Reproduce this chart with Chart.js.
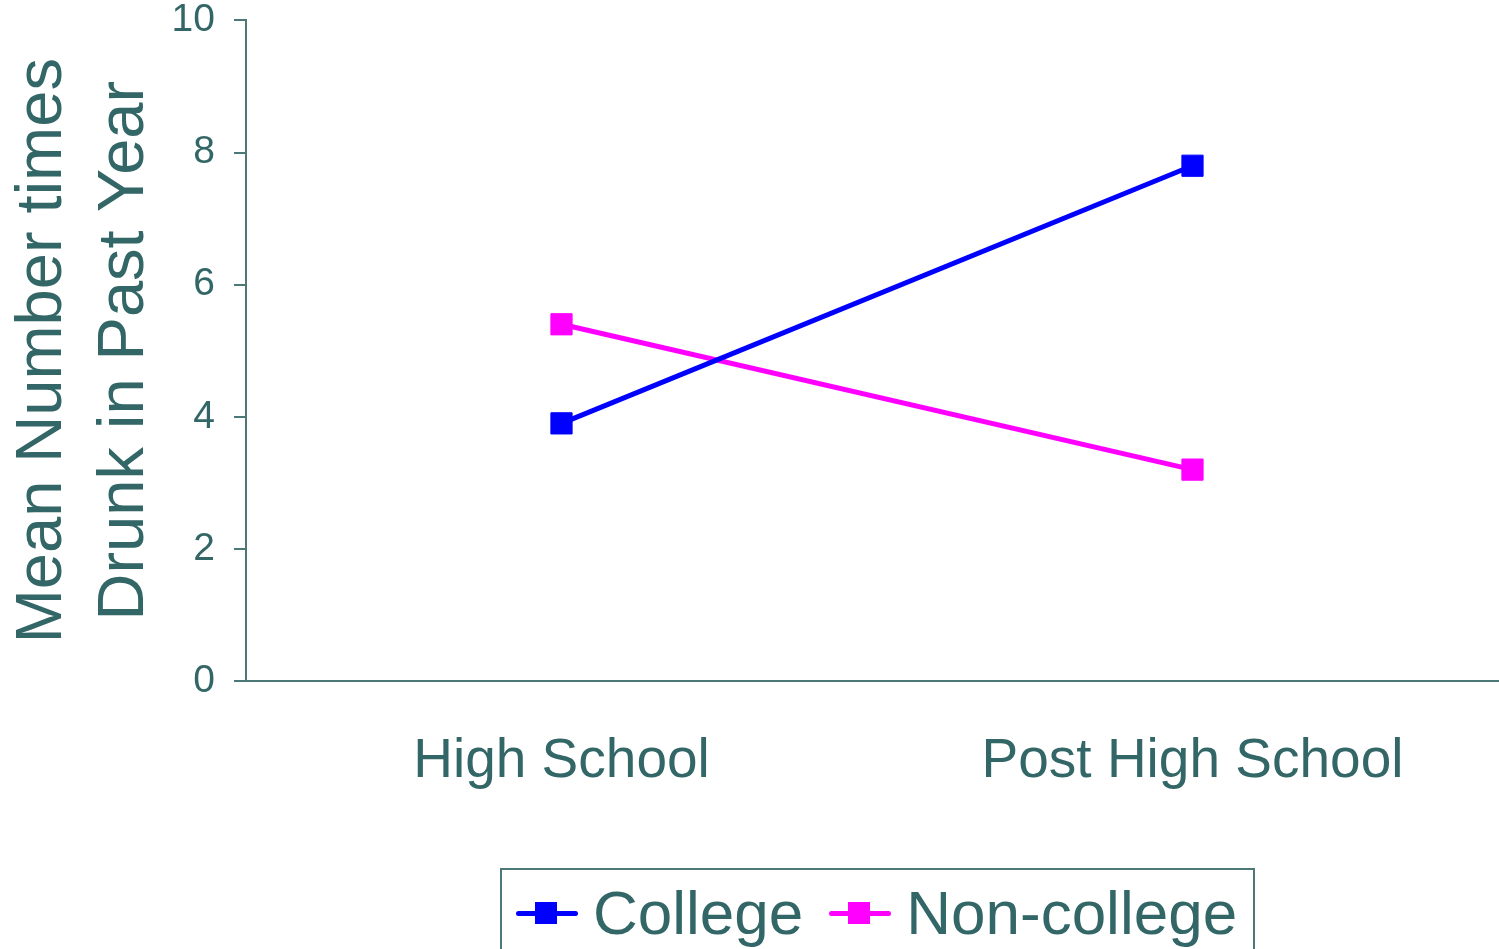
<!DOCTYPE html>
<html>
<head>
<meta charset="utf-8">
<script src="https://cdn.jsdelivr.net/npm/chart.js@4.4.0/dist/chart.umd.min.js"></script>
<style>
  html, body { margin: 0; padding: 0; background: #fff; overflow: hidden; }
  #wrap { position: relative; width: 1524px; height: 971px; margin-top: -22px; }
  #legend {
    position: absolute; left: 500px; top: 890px; width: 755px; height: 110px;
    border: 2px solid #4d7878; box-sizing: border-box;
    font-family: "Liberation Sans", Arial, sans-serif; font-size: 62px; color: #336666;
    display: flex; align-items: flex-start; padding: 12px 0 0 14px; white-space: nowrap;
  }
  .item { display: flex; align-items: center; margin-right: 26px; line-height: 62px; flex-shrink: 0; }
  .sym { position: relative; width: 62px; height: 22px; margin-right: 15px; }
  .sym .ln { position: absolute; left: 0; right: 0; top: 9px; height: 5px; border-radius: 3px; }
  .sym .sq { position: absolute; left: 19px; top: 0; width: 22px; height: 22px; }
</style>
</head>
<body>
<div id="wrap">
  <canvas id="chart"></canvas>
  <div id="legend"></div>
</div>
<script>
const categories = ['High School', 'Post High School'];
const college = [3.9, 7.8];
const nonCollege = [5.4, 3.2];
const seriesNames = ['College', 'Non-college'];
const seriesColors = ['#0000ff', '#ff00ff'];
const yTicks = [0, 2, 4, 6, 8, 10];

const textColor = '#336666';
const axisColor = '#4d7878';

const ctx = document.getElementById('chart').getContext('2d');
const myChart = new Chart(ctx, {
    type: 'line',
    data: {
        labels: categories,
        datasets: [college, nonCollege].map((d, i) => ({
            label: seriesNames[i],
            data: d,
            borderColor: seriesColors[i],
            backgroundColor: seriesColors[i],
            borderWidth: 5,
            pointStyle: 'rect',
            pointRadius: 15,
            pointHoverRadius: 15,
            pointBorderWidth: 1,
            tension: 0
        }))
    },
    options: {
        responsive: true,
        maintainAspectRatio: false,
        animation: false,
        layout: { padding: { top: 0, bottom: 106, right: 0, left: 0 } },
        plugins: { legend: { display: false }, tooltip: { enabled: false } },
        scales: {
            x: {
                offset: true,
                grid: { display: false, drawTicks: false },
                border: { color: axisColor, width: 2 },
                ticks: {
                    color: textColor, padding: 48,
                    font: { family: 'Liberation Sans', size: 55 }
                }
            },
            y: {
                min: 0, max: 10,
                afterBuildTicks: (s) => { s.ticks = yTicks.map(v => ({ value: v })); },
                afterFit: (s) => { s.width = 246; },
                grid: { drawOnChartArea: false, tickLength: 12, color: axisColor, lineWidth: 2 },
                border: { color: axisColor, width: 2 },
                ticks: {
                    color: textColor, padding: 19,
                    font: { family: 'Liberation Sans', size: 39 }
                },
                title: {
                    display: true,
                    text: ['Mean Number times', 'Drunk in Past Year'],
                    color: textColor,
                    padding: { top: 2, bottom: 0 },
                    font: { family: 'Liberation Sans', size: 65, lineHeight: 1.26 }
                }
            }
        }
    }
});

// legend built from the same series arrays
const legend = document.getElementById('legend');
seriesNames.forEach((name, i) => {
    legend.innerHTML += `
        <div class="item">
            <div class="sym"><div class="ln" style="background:${seriesColors[i]}"></div><div class="sq" style="background:${seriesColors[i]}"></div></div>
            <span>${name}</span>
        </div>`;
});
</script>
</body>
</html>
